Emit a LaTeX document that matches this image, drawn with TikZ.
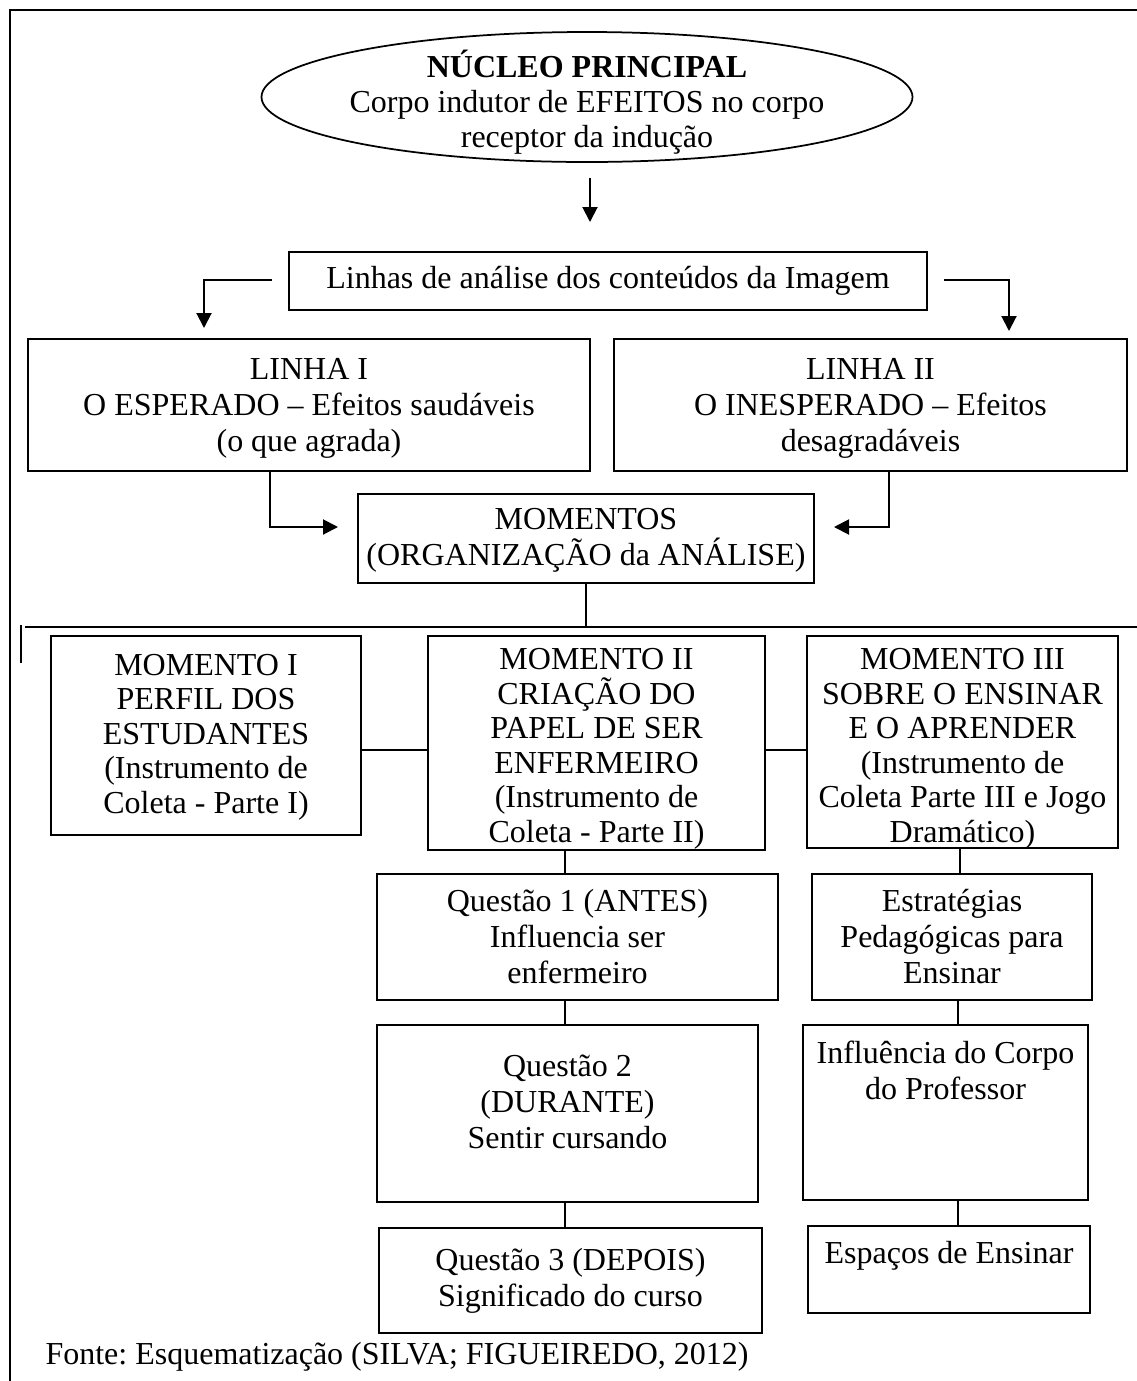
\documentclass[tikz,border=0pt]{standalone}
\usepackage{fontspec}
\setmainfont{Liberation Serif}
\usetikzlibrary{arrows.meta,shapes.geometric}
\frenchspacing
\begin{document}
\begin{tikzpicture}[x=0.4pt,y=-0.4pt,
  font=\fontsize{12.8}{14.4}\selectfont,
  frame/.style={draw,line width=0.7pt,inner sep=0pt},
  txt/.style={align=center,inner sep=0pt},
  tight/.style={txt,font=\fontsize{12.8}{13.8}\selectfont},
  link/.style={line width=0.7pt},
  arr/.style={line width=0.8pt,-{Triangle[length=6pt,width=6pt]}}]
\useasboundingbox (0,0) rectangle (1137,1381);
% outer frame (top and left edges)
\draw[line width=0.8pt] (1137,10) -- (10,10) -- (10,1381);

% central ellipse
\node[draw,ellipse,line width=0.7pt,inner sep=0pt,minimum width=260.4pt,minimum height=52pt] (nucleo) at (587,97) {};
\node[txt,font=\fontsize{12.8}{14}\selectfont] (nucleo-t) at (587,102)
  {\textbf{NÚCLEO PRINCIPAL}\\Corpo indutor de EFEITOS no corpo\\receptor da indução};
\coordinate (a1s) at (590,178);
\coordinate (a1e) at (590,222);
\draw[arr] (a1s) -- (a1e);

% lines of analysis
\node[frame,minimum width=255.2pt,minimum height=23.2pt] (linhas) at (608,281) {};
\node[txt] (linhas-t) at (608,281) {Linhas de análise dos conteúdos da Imagem};
\node[frame,minimum width=224.8pt,minimum height=52.8pt] (l1) at (309,405) {};
\node[txt] (l1-t) at (309,408) {LINHA I\\O ESPERADO – Efeitos saudáveis\\(o que agrada)};
\node[frame,minimum width=205.2pt,minimum height=52.8pt] (l2) at (870.5,405) {};
\node[txt] (l2-t) at (870.5,408) {LINHA II\\O INESPERADO – Efeitos\\desagradáveis};
\coordinate (ll) at (272,280);
\coordinate (lr) at (944,280);
\draw[arr] (ll) -| (204,328);
\draw[arr] (lr) -| (1009,331);

% moments
\node[frame,minimum width=182.4pt,minimum height=35.6pt] (mom) at (586,538.5) {};
\node[txt] (mom-t) at (586,540) {MOMENTOS\\(ORGANIZAÇÃO da ANÁLISE)};
\coordinate (m1tip) at (338,527);
\coordinate (m2tip) at (834,527);
\draw[arr] (l1.south -| 270,0) |- (m1tip);
\draw[arr] (l2.south -| 889,0) |- (m2tip);

% distribution line
\coordinate (bl) at (25,627);
\coordinate (br) at (1137,627);
\coordinate (tk1) at (21,625);
\coordinate (tk2) at (21,663);
\draw[link] (mom.south) -- (mom.south |- bl);
\draw[link] (bl) -- (br);
\draw[link] (tk1) -- (tk2);

\node[frame,minimum width=124pt,minimum height=79.6pt] (mi) at (206,735.5) {};
\node[tight] (mi-t) at (206,737) {MOMENTO I\\PERFIL DOS\\ESTUDANTES\\(Instrumento de\\Coleta - Parte I)};
\node[frame,minimum width=134.8pt,minimum height=85.6pt] (mii) at (596.5,743) {};
\node[tight] (mii-t) at (596.5,749) {MOMENTO II\\CRIAÇÃO DO\\PAPEL DE SER\\ENFERMEIRO\\(Instrumento de\\Coleta - Parte II)};
\node[frame,minimum width=124.4pt,minimum height=84.8pt] (miii) at (962.5,742) {};
\node[tight] (miii-t) at (962.5,749) {MOMENTO III\\SOBRE O ENSINAR\\E O APRENDER\\(Instrumento de\\Coleta Parte III e Jogo\\Dramático)};
\draw[link] (mi.east |- 0,750) -- (mii.west |- 0,750);
\draw[link] (mii.east |- 0,750) -- (miii.west |- 0,750);

% questions
\node[frame,minimum width=160.4pt,minimum height=50.4pt] (q1) at (577.5,937) {};
\node[txt] (q1-t) at (577.5,937) {Questão 1 (ANTES)\\Influencia ser\\enfermeiro};
\node[frame,minimum width=152.4pt,minimum height=70.8pt] (q2) at (567.5,1113.5) {};
\node[txt] (q2-t) at (567.5,1102) {Questão 2\\(DURANTE)\\Sentir cursando};
\node[frame,minimum width=153.2pt,minimum height=42pt] (q3) at (570.5,1280.5) {};
\node[txt] (q3-t) at (570.5,1281) {Questão 3 (DEPOIS)\\Significado do curso};
\draw[link] (mii.south -| 565,0) -- (q1.north -| 565,0);
\draw[link] (q1.south -| 565,0) -- (q2.north -| 565,0);
\draw[link] (q2.south -| 565,0) -- (q3.north -| 565,0);

% teaching
\node[frame,minimum width=112pt,minimum height=50.4pt] (est) at (952,937) {};
\node[txt] (est-t) at (952,937) {Estratégias\\Pedagógicas para\\Ensinar};
\node[frame,minimum width=114pt,minimum height=70pt] (inf) at (945.5,1112.5) {};
\node[txt,anchor=north] (inf-t) at (945.5,1040) {Influência do Corpo\\do Professor};
\node[frame,minimum width=112.8pt,minimum height=34.8pt] (esp) at (949,1269.5) {};
\node[txt] (esp-t) at (949,1256) {Espaços de Ensinar};
\draw[link] (miii.south -| 960,0) -- (est.north -| 960,0);
\draw[link] (est.south -| 958,0) -- (inf.north -| 958,0);
\draw[link] (inf.south -| 958,0) -- (esp.north -| 958,0);

% source line
\node[anchor=west,inner sep=0pt] (fonte) at (45,1357) {Fonte: Esquematização (SILVA; FIGUEIREDO, 2012)};
\end{tikzpicture}
\end{document}
